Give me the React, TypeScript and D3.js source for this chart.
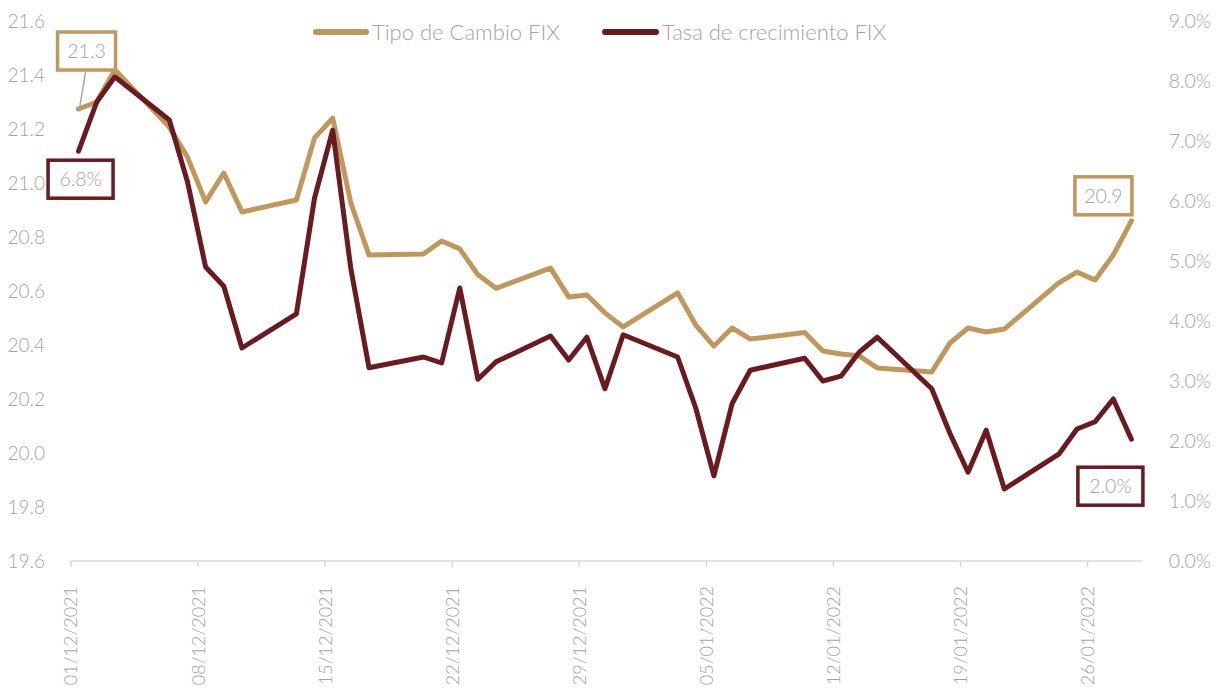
import React from "react";
import * as d3 from "d3";

// business days shown in the chart
const dates = [
  "2021-12-01", "2021-12-02", "2021-12-03", "2021-12-06", "2021-12-07", "2021-12-08",
  "2021-12-09", "2021-12-10", "2021-12-13", "2021-12-14", "2021-12-15", "2021-12-16",
  "2021-12-17", "2021-12-20", "2021-12-21", "2021-12-22", "2021-12-23", "2021-12-24",
  "2021-12-27", "2021-12-28", "2021-12-29", "2021-12-30", "2021-12-31", "2022-01-03",
  "2022-01-04", "2022-01-05", "2022-01-06", "2022-01-07", "2022-01-10", "2022-01-11",
  "2022-01-12", "2022-01-13", "2022-01-14", "2022-01-17", "2022-01-18", "2022-01-19",
  "2022-01-20", "2022-01-21", "2022-01-24", "2022-01-25", "2022-01-26", "2022-01-27",
  "2022-01-28",
];

const tipoCambio = [
  21.274, 21.3, 21.42, 21.207, 21.096, 20.93, 21.037, 20.893, 20.937, 21.167, 21.24,
  20.926, 20.733, 20.737, 20.785, 20.756, 20.66, 20.61, 20.685, 20.578, 20.585, 20.519,
  20.467, 20.593, 20.474, 20.396, 20.463, 20.422, 20.446, 20.378, 20.367, 20.36, 20.315,
  20.3, 20.407, 20.463, 20.448, 20.459, 20.63, 20.67, 20.641, 20.733, 20.86,
];

const tasaCrecimiento = [
  6.83, 7.65, 8.07, 7.35, 6.32, 4.9, 4.58, 3.55, 4.12, 6.05, 7.18, 4.87, 3.22, 3.4,
  3.3, 4.55, 3.03, 3.32, 3.75, 3.35, 3.73, 2.87, 3.77, 3.4, 2.55, 1.42, 2.62, 3.18,
  3.38, 3.0, 3.08, 3.48, 3.73, 2.87, 2.13, 1.48, 2.18, 1.2, 1.78, 2.2, 2.32, 2.7, 2.03,
];

const leftTicks = [19.6, 19.8, 20.0, 20.2, 20.4, 20.6, 20.8, 21.0, 21.2, 21.4, 21.6];
const rightTicks = [0, 1, 2, 3, 4, 5, 6, 7, 8, 9];
const xTickDates = [
  "2021-12-01", "2021-12-08", "2021-12-15", "2021-12-22", "2021-12-29",
  "2022-01-05", "2022-01-12", "2022-01-19", "2022-01-26",
];

const seriesNames = ["Tipo de Cambio FIX", "Tasa de crecimiento FIX"];

const GOLD = "#C0985B";
const WINE = "#6B1A20";
const TEXT = "#A3A3A3";
const FONT = "Lato, 'Open Sans', sans-serif";

const parse = d3.utcParse("%Y-%m-%d");
const fmtTick = d3.utcFormat("%d/%m/%Y");

export default function App() {
  const width = 1220;
  const height = 688;
  const top = 21;
  const bottom = 561;
  const left = 71;
  const right = 1142;

  const x = d3
    .scaleUtc()
    .domain([parse("2021-12-01")!, parse("2022-01-29")!])
    .range([left, right]);
  const yL = d3.scaleLinear().domain([19.6, 21.6]).range([bottom, top]);
  const yR = d3.scaleLinear().domain([0, 9]).range([bottom, top]);

  // points sit in the middle of their day
  const px = (s: string) => x(d3.utcHour.offset(parse(s)!, 10));

  const goldLine = d3
    .line<number>()
    .x((_, i) => px(dates[i]))
    .y((d) => yL(d));
  const wineLine = d3
    .line<number>()
    .x((_, i) => px(dates[i]))
    .y((d) => yR(d));

  const n = dates.length - 1;
  const g0 = { x: px(dates[0]), y: yL(tipoCambio[0]) };
  const w0 = { x: px(dates[0]), y: yR(tasaCrecimiento[0]) };
  const gN = { x: px(dates[n]), y: yL(tipoCambio[n]) };
  const wN = { x: px(dates[n]), y: yR(tasaCrecimiento[n]) };

  const labels = [
    { cx: g0.x + 8, cy: g0.y - 58, w: 58, text: tipoCambio[0].toFixed(1), color: GOLD },
    { cx: w0.x + 2, cy: w0.y + 28, w: 65, text: tasaCrecimiento[0].toFixed(1) + "%", color: WINE },
    { cx: gN.x - 28, cy: gN.y - 25, w: 57, text: tipoCambio[n].toFixed(1), color: GOLD },
    { cx: wN.x - 21, cy: wN.y + 47, w: 65, text: tasaCrecimiento[n].toFixed(1) + "%", color: WINE },
  ];

  return (
    <svg
      width={width}
      height={height}
      style={{ position: "absolute", left: 0, top: 0, background: "#fff" }}
      fontFamily={FONT}
    >
      {/* x axis */}
      <line x1={left} x2={right} y1={bottom} y2={bottom} stroke="#D9D9D9" strokeWidth={1.5} />
      {xTickDates.map((s) => {
        const tx = x(parse(s)!);
        return (
          <g key={s}>
            <line x1={tx} x2={tx} y1={bottom} y2={bottom + 6} stroke="#D9D9D9" strokeWidth={1.5} />
            <text
              transform={`translate(${tx},${bottom + 25}) rotate(-90)`}
              textAnchor="end"
              dy="0.36em"
              fontSize={18}
              fill={TEXT}
              fontWeight={300}
            >
              {fmtTick(parse(s)!)}
            </text>
          </g>
        );
      })}

      {/* left axis labels */}
      {leftTicks.map((t) => (
        <text
          key={t}
          x={45}
          y={yL(t)}
          dy="0.35em"
          textAnchor="end"
          fontSize={19}
          fill={TEXT}
          fontWeight={300}
        >
          {t.toFixed(1)}
        </text>
      ))}

      {/* right axis labels */}
      {rightTicks.map((t) => (
        <text
          key={t}
          x={1211}
          y={yR(t)}
          dy="0.35em"
          textAnchor="end"
          fontSize={19.5}
          fill={TEXT}
          fontWeight={300}
        >
          {t.toFixed(1) + "%"}
        </text>
      ))}

      {/* series */}
      <path d={goldLine(tipoCambio)!} fill="none" stroke={GOLD} strokeWidth={5} strokeLinejoin="round" strokeLinecap="round" />
      <path d={wineLine(tasaCrecimiento)!} fill="none" stroke={WINE} strokeWidth={5} strokeLinejoin="round" strokeLinecap="round" />

      {/* leader for first gold label */}
      <line x1={g0.x + 1} y1={g0.y - 1} x2={g0.x + 7} y2={g0.y - 37} stroke="#A6A6A6" strokeWidth={1.5} />

      {/* data labels */}
      {labels.map((l, i) => (
        <g key={i}>
          <rect
            x={l.cx - l.w / 2}
            y={l.cy - 19}
            width={l.w}
            height={38}
            fill="#fff"
            stroke={l.color}
            strokeWidth={3.5}
          />
          <text x={l.cx} y={l.cy} dy="0.35em" textAnchor="middle" fontSize={19.5} fill={TEXT} fontWeight={300}>
            {l.text}
          </text>
        </g>
      ))}

      {/* legend */}
      <line x1={316} x2={366} y1={32} y2={32} stroke={GOLD} strokeWidth={6} strokeLinecap="round" />
      <text x={372} y={32} dy="0.35em" fontSize={22} fill={TEXT} fontWeight={300}>
        {seriesNames[0]}
      </text>
      <line x1={605} x2={656} y1={32} y2={32} stroke={WINE} strokeWidth={6} strokeLinecap="round" />
      <text x={662} y={32} dy="0.35em" fontSize={22} fill={TEXT} fontWeight={300}>
        {seriesNames[1]}
      </text>
    </svg>
  );
}
